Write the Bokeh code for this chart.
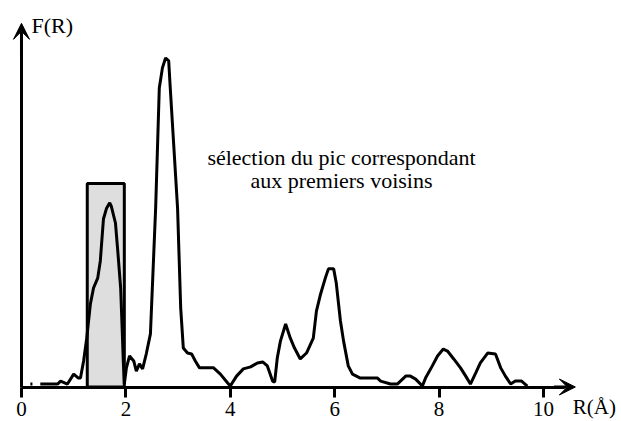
from bokeh.plotting import figure
from bokeh.models import Range1d, LinearAxis, FixedTicker, Arrow, VeeHead, Label
from bokeh.embed import file_html
from bokeh.resources import INLINE

# Radial distribution F(R)
r_vals = [0.17, 0.21, float("nan"), 0.36, 0.69, 0.75, 0.88, 1.00, 1.09, 1.13, 1.19, 1.25, 1.32, 1.38,
          1.46, 1.51, 1.57, 1.63, 1.69, 1.72, 1.80, 1.84, 1.90, 1.93, 1.95, 1.97, 2.01,
          2.07, 2.15, 2.20, 2.26, 2.32, 2.39, 2.47, 2.57, 2.64, 2.70, 2.76, 2.82, 2.85,
          2.99, 3.05, 3.10, 3.18, 3.26, 3.33, 3.41, 3.68, 3.81, 3.95, 4.00, 4.12, 4.25,
          4.39, 4.52, 4.62, 4.71, 4.81, 4.85, 4.90, 4.96, 5.06, 5.15, 5.23, 5.34, 5.46,
          5.59, 5.65, 5.73, 5.82, 5.88, 5.98, 6.03, 6.11, 6.17, 6.26, 6.34, 6.49, 6.82,
          6.88, 7.07, 7.20, 7.26, 7.36, 7.45, 7.55, 7.68, 7.74, 7.87, 7.97, 8.08, 8.16,
          8.28, 8.41, 8.51, 8.60, 8.70, 8.79, 8.93, 9.08, 9.18, 9.27, 9.37, 9.46, 9.58, 9.69]
f_vals = [0.9, 0.9, float("nan"), 0.9, 0.9, 1.8, 0.9, 3.9, 2.7, 2.7, 7.9, 14.8, 25.2, 30.0,
          33.0, 38.2, 50.9, 54.2, 55.8, 54.8, 49.7, 42.1, 30.0, 17.0, 7.9, 0.9, 5.8,
          9.4, 7.9, 4.8, 7.0, 5.5, 10.0, 16.1, 54.2, 90.6, 96.7, 99.7, 98.8, 90.6,
          54.2, 23.9, 11.8, 10.3, 10.0, 7.9, 5.8, 5.8, 3.9, 1.2, 0.3, 3.3, 5.5,
          6.1, 7.3, 7.6, 6.4, 1.8, 1.5, 8.8, 13.9, 19.1, 14.8, 11.8, 8.5, 10.3,
          14.8, 23.0, 28.2, 33.0, 35.8, 35.8, 31.5, 20.0, 13.9, 6.4, 3.9, 2.7, 2.7,
          1.8, 0.9, 0.9, 1.8, 3.3, 3.3, 2.4, 0.3, 2.7, 6.4, 9.4, 11.5, 10.9,
          8.5, 5.8, 3.3, 0.9, 4.2, 7.3, 10.3, 10.0, 5.8, 3.3, 0.9, 1.8, 1.8, 0.3]

# selection window (first neighbours)
sel_left = [1.26]
sel_right = [1.97]
sel_top = [61.7]

x_ticks = [0, 2, 4, 6, 8, 10]
x_label = "R(Å)"
y_label = "F(R)"
note_line1 = "sélection du pic correspondant"
note_line2 = "aux premiers voisins"

FONT = "Liberation Serif"

p = figure(width=621, height=421, output_backend="svg", toolbar_location=None,
           x_range=Range1d(-0.402, 11.494), y_range=Range1d(-10.45, 117.12),
           x_axis_type=None, y_axis_type=None, min_border=0)
p.outline_line_color = None
p.background_fill_color = "white"
p.border_fill_color = "white"

p.quad(left=sel_left, right=sel_right, bottom=[0], top=sel_top,
       fill_color="#dedede", line_color="black", line_width=3)

p.line(r_vals, f_vals, line_color="black", line_width=3)

xaxis = LinearAxis(ticker=FixedTicker(ticks=x_ticks), fixed_location=0, bounds=(0, 10.4))
xaxis.axis_line_width = 3
xaxis.axis_line_color = "black"
xaxis.major_tick_line_width = 3
xaxis.major_tick_line_color = "black"
xaxis.major_tick_out = 10
xaxis.major_tick_in = 0
xaxis.minor_tick_out = 0
xaxis.minor_tick_in = 0
xaxis.major_label_standoff = 5
xaxis.major_label_text_font = FONT
xaxis.major_label_text_font_size = "21px"
xaxis.major_label_text_color = "black"
p.add_layout(xaxis, "below")

yaxis = LinearAxis(ticker=FixedTicker(ticks=[]), fixed_location=0, bounds=(0, 106))
yaxis.axis_line_width = 3
yaxis.axis_line_color = "black"
yaxis.major_tick_out = 0
yaxis.major_tick_in = 0
yaxis.minor_tick_out = 0
yaxis.minor_tick_in = 0
yaxis.major_label_text_font_size = "0px"
p.add_layout(yaxis, "left")

p.add_layout(Arrow(end=VeeHead(size=16, fill_color="black", line_color="black", line_width=1),
                   x_start=10.2, y_start=0, x_end=10.61, y_end=0, line_width=3, line_color="black"))
p.add_layout(Arrow(end=VeeHead(size=16, fill_color="black", line_color="black", line_width=1),
                   x_start=0, y_start=100, x_end=0, y_end=110.2, line_width=3, line_color="black"))

p.add_layout(Label(x=0.19, y=109.4, text=y_label, text_font=FONT, text_font_size="22px",
                   text_color="black", text_baseline="alphabetic"))
p.add_layout(Label(x=10.56, y=-6.2, text=x_label, text_font=FONT, text_font_size="21px",
                   text_color="black", text_baseline="alphabetic"))
p.add_layout(Label(x=6.13, y=69.4, text=note_line1, text_font=FONT, text_font_size="22px",
                   text_color="black", text_align="center", text_baseline="alphabetic"))
p.add_layout(Label(x=6.13, y=62.7, text=note_line2, text_font=FONT, text_font_size="22px",
                   text_color="black", text_align="center", text_baseline="alphabetic"))

open("out.html", "w").write(file_html(p, INLINE))
